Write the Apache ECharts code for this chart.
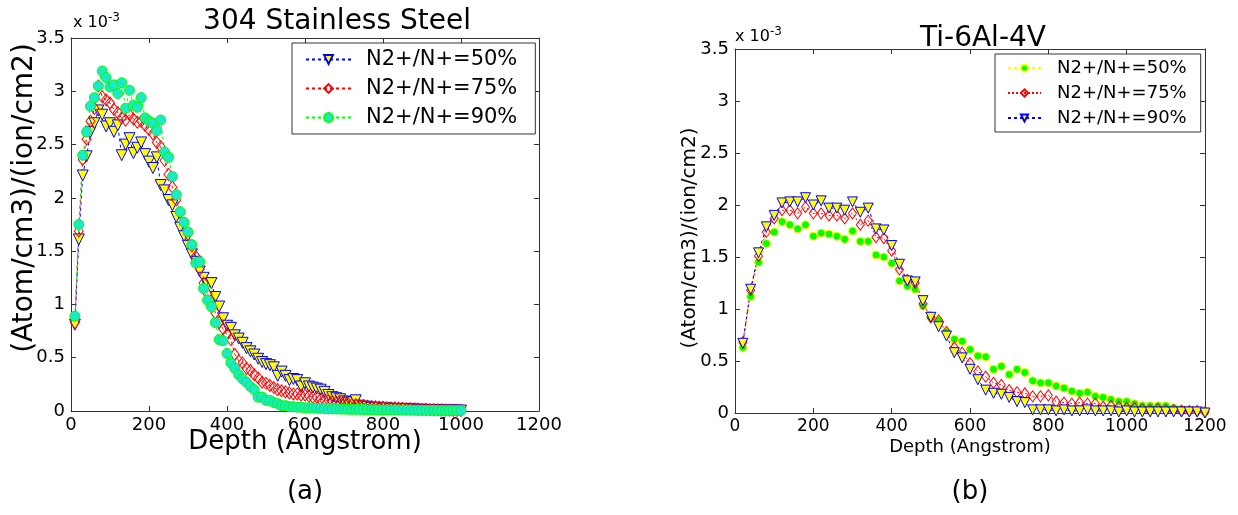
<!DOCTYPE html>
<html>
<head>
<meta charset="utf-8">
<script src="https://cdn.jsdelivr.net/npm/echarts@6/dist/echarts.min.js"></script>
<style>
	html, body { margin: 0; padding: 0; background: #fff; }
	#main { width: 1238px; height: 515px; }
</style>
</head>
<body>
<div id="main"></div>
<script>
// values are in units of 10^-3 (Atom/cm3)/(ion/cm2), as on the axes

// (a) 304 Stainless Steel, depth in Angstrom
var depthA = [10, 20, 30, 40, 50, 60, 70, 80, 90, 100, 110, 120, 130, 140, 150, 160, 170, 180, 190, 200,
	210, 220, 230, 240, 250, 260, 270, 280, 290, 300, 310, 320, 330, 340, 350, 360, 370, 380, 390, 400,
	410, 420, 430, 440, 450, 460, 470, 480, 490, 500, 510, 520, 530, 540, 550, 560, 570, 580, 590, 600,
	610, 620, 630, 640, 650, 660, 670, 680, 690, 700, 710, 720, 730, 740, 750, 760, 770, 780, 790, 800,
	810, 820, 830, 840, 850, 860, 870, 880, 890, 900, 910, 920, 930, 940, 950, 960, 970, 980, 990, 1000];
var steel50 = [0.81, 1.61, 2.21, 2.39, 2.62, 2.70, 2.82, 2.78, 2.67, 2.70, 2.62, 2.68, 2.40, 2.50, 2.56, 2.42, 2.47, 2.52, 2.41, 2.34,
	2.28, 2.38, 2.12, 2.07, 1.98, 1.93, 1.82, 1.72, 1.64, 1.55, 1.47, 1.40, 1.31, 1.25, 1.19, 1.20, 1.07, 0.98, 0.87, 0.80,
	0.78, 0.71, 0.68, 0.64, 0.59, 0.56, 0.53, 0.49, 0.46, 0.44, 0.43, 0.41, 0.33, 0.37, 0.33, 0.29, 0.30, 0.29, 0.23, 0.26,
	0.23, 0.22, 0.21, 0.20, 0.18, 0.15, 0.13, 0.12, 0.11, 0.09, 0.08, 0.08, 0.10, 0.05, 0.04, 0.04, 0.03, 0.03, 0.03, 0.02,
	0.025, 0.02, 0.02, 0.02, 0.015, 0.02, 0.015, 0.015, 0.01, 0.012, 0.01, 0.01, 0.008, 0.01, 0.008, 0.006, 0.006, 0.005, 0.005, 0.004];
var steel75 = [0.83, 1.69, 2.36, 2.55, 2.72, 2.84, 3.05, 2.95, 2.92, 2.89, 2.83, 2.80, 2.75, 2.73, 2.78, 2.74, 2.71, 2.72, 2.68, 2.64,
	2.60, 2.52, 2.48, 2.35, 2.22, 2.10, 1.98, 1.86, 1.76, 1.66, 1.55, 1.45, 1.33, 1.20, 1.10, 1.03, 0.92, 0.83, 0.77, 0.72,
	0.67, 0.53, 0.47, 0.45, 0.40, 0.38, 0.34, 0.31, 0.27, 0.26, 0.24, 0.22, 0.20, 0.19, 0.18, 0.17, 0.16, 0.16, 0.15, 0.15,
	0.14, 0.13, 0.13, 0.11, 0.10, 0.10, 0.09, 0.085, 0.08, 0.075, 0.07, 0.06, 0.06, 0.05, 0.05, 0.045, 0.04, 0.04, 0.035, 0.035,
	0.03, 0.03, 0.028, 0.025, 0.025, 0.02, 0.02, 0.02, 0.018, 0.015, 0.015, 0.012, 0.012, 0.01, 0.01, 0.008, 0.008, 0.006, 0.006, 0.005];
var steel90 = [0.89, 1.75, 2.40, 2.62, 2.86, 2.94, 3.05, 3.19, 3.13, 3.04, 3.06, 2.98, 3.08, 2.84, 3.01, 2.87, 2.85, 2.94, 2.75, 2.72,
	2.70, 2.63, 2.73, 2.43, 2.38, 2.20, 2.03, 1.87, 1.77, 1.68, 1.56, 1.39, 1.40, 1.15, 1.04, 0.98, 0.83, 0.67, 0.66, 0.54,
	0.45, 0.40, 0.34, 0.30, 0.27, 0.23, 0.20, 0.13, 0.13, 0.10, 0.10, 0.08, 0.07, 0.05, 0.05, 0.04, 0.04, 0.035, 0.035, 0.03,
	0.03, 0.028, 0.025, 0.025, 0.022, 0.02, 0.02, 0.02, 0.018, 0.018, 0.016, 0.015, 0.015, 0.014, 0.013, 0.012, 0.012, 0.011, 0.01, 0.01,
	0.01, 0.01, 0.009, 0.009, 0.008, 0.008, 0.008, 0.007, 0.007, 0.007, 0.006, 0.006, 0.006, 0.005, 0.005, 0.005, 0.005, 0.004, 0.004, 0.004];

// (b) Ti-6Al-4V
var depthB = [20, 40, 60, 80, 100, 120, 140, 160, 180, 200, 220, 240, 260, 280, 300, 320, 340, 360, 380, 400,
	420, 440, 460, 480, 500, 520, 540, 560, 580, 600, 620, 640, 660, 680, 700, 720, 740, 760, 780, 800,
	820, 840, 860, 880, 900, 920, 940, 960, 980, 1000, 1020, 1040, 1060, 1080, 1100, 1120, 1140, 1160, 1180, 1200];
var ti50 = [0.63, 1.12, 1.45, 1.63, 1.74, 1.84, 1.81, 1.77, 1.81, 1.70, 1.73, 1.72, 1.70, 1.67, 1.75, 1.65, 1.65, 1.52, 1.50, 1.44,
	1.27, 1.22, 1.19, 1.03, 0.92, 0.89, 0.78, 0.71, 0.69, 0.61, 0.55, 0.54, 0.42, 0.45, 0.37, 0.42, 0.39, 0.31, 0.29, 0.29,
	0.26, 0.24, 0.21, 0.19, 0.20, 0.16, 0.15, 0.13, 0.11, 0.11, 0.09, 0.07, 0.07, 0.07, 0.07, 0.05, 0.04, 0.03, 0.02, 0.01];
var ti75 = [0.68, 1.18, 1.51, 1.74, 1.87, 1.95, 1.95, 1.92, 1.98, 1.92, 1.92, 1.90, 1.90, 1.87, 1.92, 1.81, 1.85, 1.69, 1.68, 1.56,
	1.38, 1.28, 1.25, 1.05, 0.92, 0.89, 0.78, 0.63, 0.58, 0.48, 0.40, 0.35, 0.29, 0.27, 0.22, 0.20, 0.19, 0.16, 0.16, 0.17,
	0.11, 0.10, 0.09, 0.10, 0.09, 0.09, 0.06, 0.07, 0.06, 0.05, 0.05, 0.04, 0.03, 0.04, 0.03, 0.03, 0.02, 0.02, 0.02, 0.01];
var ti90 = [0.67, 1.19, 1.54, 1.79, 1.90, 2.02, 2.03, 2.03, 2.07, 2.00, 2.04, 1.97, 1.97, 1.95, 2.03, 1.93, 1.97, 1.77, 1.76, 1.61,
	1.43, 1.27, 1.26, 1.08, 0.92, 0.83, 0.74, 0.58, 0.53, 0.42, 0.32, 0.22, 0.19, 0.18, 0.15, 0.11, 0.10, 0.03, 0.03, 0.03,
	0.02, 0.03, 0.02, 0.02, 0.03, 0.02, 0.02, 0.02, 0.01, 0.02, 0.01, 0.01, 0.01, 0.01, 0.01, 0.01, 0.01, 0.01, 0.01, 0.0];

var legendText = {
	s50 : 'N2+/N+=50%', s75 : 'N2+/N+=75%', s90 : 'N2+/N+=90%',
	t50 : 'N2+/N+=50%', t75 : 'N2+/N+=75%', t90 : 'N2+/N+=90%'
};

function pairs(xs, ys) {
	var out = [];
	for (var i = 0; i < xs.length; i++) {
		out.push([xs[i], ys[i]]);
	}
	return out;
}

var FONT = 'DejaVu Sans';
var AXIS = '#333';

function xAxisOf(grid, pos, fontSize, name, nameSize, nameGap) {
	var ax = {
		gridIndex : grid,
		type : 'value',
		position : pos,
		min : 0,
		max : 1200,
		interval : 200,
		axisLine : { show : true, onZero : false, lineStyle : { color : AXIS, width : 1 } },
		axisTick : { show : true, inside : true, length : 5, lineStyle : { color : AXIS } },
		axisLabel : {
			show : pos === 'bottom', margin : 5, color : '#000', fontFamily : FONT, fontSize : fontSize,
			formatter : function(v) { return String(v); }
		},
		splitLine : { show : false }
	};
	if (name) {
		ax.name = name;
		ax.nameLocation = 'middle';
		ax.nameGap = nameGap;
		ax.nameMoveOverlap = false;
		ax.nameTextStyle = { color : '#000', fontFamily : FONT, fontSize : nameSize };
	}
	return ax;
}

function yAxisOf(grid, pos, fontSize) {
	return {
		gridIndex : grid,
		type : 'value',
		position : pos,
		min : 0,
		max : 3.5,
		interval : 0.5,
		axisLine : { show : true, onZero : false, lineStyle : { color : AXIS, width : 1 } },
		axisTick : { show : true, inside : true, length : 5, lineStyle : { color : AXIS } },
		axisLabel : { show : pos === 'left', margin : 6, color : '#000', fontFamily : FONT, fontSize : fontSize },
		splitLine : { show : false }
	};
}

function lineSeries(name, xi, yi, data, lineColor, dash, symbol, size, rotate, fill, border) {
	return {
		name : name,
		type : 'line',
		xAxisIndex : xi,
		yAxisIndex : yi,
		data : data,
		symbol : symbol,
		symbolSize : size,
		symbolRotate : rotate,
		showSymbol : true,
		lineStyle : { color : lineColor, width : 1, type : dash },
		itemStyle : { color : fill, borderColor : border, borderWidth : 1 },
		emphasis : { disabled : true },
		animation : false
	};
}

var myChart = echarts.init(document.getElementById('main'));

var option = {
	backgroundColor : '#fff',
	animation : false,
	title : [ {
		text : '304 Stainless Steel',
		left : 332,
		top : 3,
		textAlign : 'center',
		textStyle : { fontFamily : FONT, fontWeight : 'normal', fontSize : 28, color : '#000' }
	}, {
		text : 'Ti-6Al-4V',
		left : 978,
		top : 20,
		textAlign : 'center',
		textStyle : { fontFamily : FONT, fontWeight : 'normal', fontSize : 28, color : '#000' }
	} ],
	grid : [
		{ left : 71, top : 38, width : 468, height : 373 },
		{ left : 735, top : 49, width : 470, height : 364 }
	],
	xAxis : [
		xAxisOf(0, 'bottom', 18, 'Depth (Angstrom)', 26, 18),
		xAxisOf(0, 'top', 18),
		xAxisOf(1, 'bottom', 17, 'Depth (Angstrom)', 18, 25),
		xAxisOf(1, 'top', 17)
	],
	yAxis : [
		yAxisOf(0, 'left', 18),
		yAxisOf(0, 'right', 18),
		yAxisOf(1, 'left', 18),
		yAxisOf(1, 'right', 18)
	],
	legend : [ {
		data : [ 's50', 's75', 's90' ],
		formatter : function(name) { return legendText[name]; },
		orient : 'vertical',
		left : 292,
		top : 43,
		padding : [ 6, 18, 6, 13 ],
		itemGap : 8,
		itemWidth : 45,
		itemHeight : 11,
		borderColor : '#333',
		borderWidth : 1,
		backgroundColor : '#fff',
		selectedMode : false,
		textStyle : { fontFamily : FONT, fontSize : 21, color : '#000', padding : [ 0, 0, 0, 10 ] }
	}, {
		data : [ 't50', 't75', 't90' ],
		formatter : function(name) { return legendText[name]; },
		orient : 'vertical',
		left : 995,
		top : 54,
		padding : [ 5, 14, 5, 12 ],
		itemGap : 7,
		itemWidth : 33,
		itemHeight : 9,
		borderColor : '#333',
		borderWidth : 1,
		backgroundColor : '#fff',
		selectedMode : false,
		textStyle : { fontFamily : FONT, fontSize : 18, color : '#000', padding : [ 0, 0, 0, 11 ] }
	} ],
	graphic : [ {
		type : 'text',
		x : 25, y : 198, rotation : Math.PI / 2,
		style : { text : '(Atom/cm3)/(ion/cm2)', fontFamily : FONT, fontSize : 28, fill : '#000', align : 'center', verticalAlign : 'middle' }
	}, {
		type : 'text',
		x : 690, y : 238, rotation : Math.PI / 2,
		style : { text : '(Atom/cm3)/(ion/cm2)', fontFamily : FONT, fontSize : 20, fill : '#000', align : 'center', verticalAlign : 'middle' }
	}, {
		type : 'text',
		x : 73, y : 23,
		style : {
			text : '{b|x 10}{s|-3}', fontFamily : FONT, fill : '#000', verticalAlign : 'middle',
			rich : { b : { fontSize : 16, fontFamily : FONT }, s : { fontSize : 12, fontFamily : FONT, verticalAlign : 'top', padding : [ 0, 0, 10, 0 ] } }
		}
	}, {
		type : 'text',
		x : 735, y : 37,
		style : {
			text : '{b|x 10}{s|-3}', fontFamily : FONT, fill : '#000', verticalAlign : 'middle',
			rich : { b : { fontSize : 16, fontFamily : FONT }, s : { fontSize : 12, fontFamily : FONT, verticalAlign : 'top', padding : [ 0, 0, 10, 0 ] } }
		}
	}, {
		type : 'text',
		x : 305, y : 492,
		style : { text : '(a)', fontFamily : FONT, fontSize : 26, fill : '#000', align : 'center', verticalAlign : 'middle' }
	}, {
		type : 'text',
		x : 970, y : 492,
		style : { text : '(b)', fontFamily : FONT, fontSize : 26, fill : '#000', align : 'center', verticalAlign : 'middle' }
	} ],
	series : [
		lineSeries('s50', 0, 0, pairs(depthA, steel50), '#0000ff', [ 3, 3 ], 'triangle', 11, 180, '#ffff00', '#0000ff'),
		lineSeries('s75', 0, 0, pairs(depthA, steel75), '#ff0000', [ 3, 3 ], 'diamond', [ 9, 12 ], 0, 'rgba(255,255,255,0)', '#ff0000'),
		lineSeries('s90', 0, 0, pairs(depthA, steel90), '#00ff00', [ 3, 3 ], 'circle', 10, 0, '#1de9c8', '#00ff00'),
		lineSeries('t50', 2, 2, pairs(depthB, ti50), '#ffff00', [ 3, 3 ], 'circle', 8, 0, '#00ff00', '#ffff00'),
		lineSeries('t75', 2, 2, pairs(depthB, ti75), '#ff0000', [ 2, 2 ], 'diamond', [ 8, 11 ], 0, 'rgba(255,255,255,0)', '#ff0000'),
		lineSeries('t90', 2, 2, pairs(depthB, ti90), '#0000ff', [ 3, 3 ], 'triangle', 10, 180, '#ffff00', '#0000ff')
	]
};

myChart.setOption(option);
</script>
</body>
</html>
